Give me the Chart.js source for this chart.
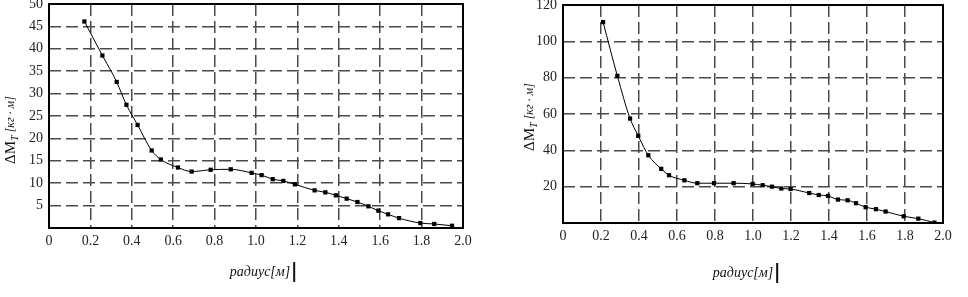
<!DOCTYPE html>
<html>
<head>
<meta charset="utf-8">
<script src="https://cdn.jsdelivr.net/npm/chart.js@4.4.1/dist/chart.umd.min.js"></script>
<style>
    html, body { margin: 0; padding: 0; background: #fff; }
    .wrap { position: absolute; top: 0; width: 484px; height: 297px; }
    #left { left: 0; }
    #right { left: 484px; }
</style>
</head>
<body>
<div class="wrap" id="left"><canvas id="chartLeft" width="484" height="297"></canvas></div>
<div class="wrap" id="right"><canvas id="chartRight" width="484" height="297"></canvas></div>
<script>
// left chart: radius [m] -> dM_T
const radiusLeft = [0.171, 0.258, 0.327, 0.374, 0.428, 0.496, 0.540, 0.623, 0.689, 0.781, 0.878, 0.979,
    1.027, 1.081, 1.132, 1.188, 1.283, 1.335, 1.386, 1.438, 1.490, 1.543, 1.591, 1.638, 1.691, 1.794, 1.861, 1.947];
const momentLeft = [46.1, 38.5, 32.6, 27.5, 23.0, 17.3, 15.3, 13.5, 12.6, 13.0, 13.1, 12.3,
    11.8, 10.9, 10.5, 9.75, 8.4, 7.96, 7.3, 6.55, 5.8, 4.84, 3.87, 3.05, 2.2, 1.1, 0.9, 0.5];

// right chart
const radiusRight = [0.211, 0.286, 0.353, 0.396, 0.449, 0.517, 0.558, 0.639, 0.707, 0.795, 0.898, 0.998,
    1.051, 1.100, 1.149, 1.198, 1.296, 1.346, 1.395, 1.447, 1.498, 1.542, 1.593, 1.647, 1.698, 1.793, 1.870, 1.955];
const momentRight = [110.6, 81.0, 57.5, 48.0, 37.3, 29.8, 26.3, 23.5, 21.9, 21.9, 21.9, 21.5,
    20.8, 20.0, 19.0, 18.7, 16.5, 15.4, 14.9, 12.9, 12.5, 10.9, 8.7, 7.6, 6.3, 3.7, 2.4, 0.2];

const xTicks = [0, 0.2, 0.4, 0.6, 0.8, 1.0, 1.2, 1.4, 1.6, 1.8, 2.0];
const yTicksLeft = [0, 5, 10, 15, 20, 25, 30, 35, 40, 45, 50];
const yTicksRight = [0, 20, 40, 60, 80, 100, 120];

const xTitle = 'радиус[м]';
const yTitleMain = 'ΔM';
const yTitleSub = 'T';
const yTitleUnit = ' [кг · м]';

const SERIF = '"Liberation Serif", "DejaVu Serif", serif';

// frame + axis titles drawn by hand (subscript needs it)
const decorPlugin = {
    id: 'decor',
    afterDraw(chart, args, opts) {
        const ctx = chart.ctx;
        const a = chart.chartArea;
        ctx.save();
        ctx.setLineDash([]);
        ctx.strokeStyle = '#000';
        ctx.lineWidth = 2;
        ctx.strokeRect(a.left, a.top, a.right - a.left, a.bottom - a.top);

        // x title
        ctx.fillStyle = '#111';
        ctx.font = 'italic 14px ' + SERIF;
        ctx.textBaseline = 'middle';
        const w = ctx.measureText(xTitle).width;
        const cx = (a.left + a.right) / 2 + opts.xTitleShift;
        const ty = a.bottom + opts.xTitleGap;
        ctx.textAlign = 'left';
        ctx.fillText(xTitle, cx - w / 2, ty);
        ctx.fillRect(cx + w / 2 + 3, ty - 10, 2, 20);

        // y title, rotated
        ctx.translate(opts.yTitleX, opts.yTitleY);
        ctx.rotate(-Math.PI / 2);
        ctx.font = '15px ' + SERIF;
        const w1 = ctx.measureText(yTitleMain).width;
        ctx.font = 'italic 10px ' + SERIF;
        const w2 = ctx.measureText(yTitleSub).width;
        ctx.font = 'italic 12px ' + SERIF;
        const w3 = ctx.measureText(yTitleUnit).width;
        let x0 = -(w1 + w2 + w3) / 2;
        ctx.font = '15px ' + SERIF;
        ctx.fillText(yTitleMain, x0, 0);
        x0 += w1;
        ctx.font = 'italic 10px ' + SERIF;
        ctx.fillText(yTitleSub, x0, 4);
        x0 += w2;
        ctx.font = 'italic 12px ' + SERIF;
        ctx.fillText(yTitleUnit, x0, 0);
        ctx.restore();
    }
};

function makeChart(canvasId, xs, ys, yTicks, yMax, geo) {
    const pts = xs.map((x, i) => ({ x: x, y: ys[i] }));
    const edgeColor = (ctx) => {
        const v = ctx.tick ? ctx.tick.value : null;
        return (v === ctx.scale.min || v === ctx.scale.max) ? 'rgba(0,0,0,0)' : '#4a4a4a';
    };
    return new Chart(document.getElementById(canvasId).getContext('2d'), {
        type: 'scatter',
        data: {
            datasets: [{
                data: pts,
                showLine: true,
                borderColor: '#000',
                borderWidth: 1,
                backgroundColor: '#000',
                pointStyle: 'rect',
                pointRadius: 3,
                pointBorderWidth: 0,
                cubicInterpolationMode: 'monotone'
            }]
        },
        options: {
            responsive: false,
            animation: false,
            layout: { padding: { top: geo.top, right: geo.right, left: 0, bottom: 0 } },
            plugins: {
                legend: { display: false },
                tooltip: { enabled: false },
                decor: geo.decor
            },
            scales: {
                x: {
                    type: 'linear',
                    min: 0, max: 2,
                    afterBuildTicks: (s) => { s.ticks = xTicks.map(v => ({ value: v })); },
                    afterFit: (s) => { s.height = geo.xHeight; s.paddingLeft = 0; s.paddingRight = 0; },
                    grid: { color: edgeColor, lineWidth: 1.5, drawTicks: false },
                    border: { display: false, dash: [12, 5] },
                    ticks: {
                        padding: 5,
                        color: '#222',
                        font: { family: SERIF, size: 14 },
                        maxRotation: 0,
                        callback: (v) => v === 0 ? '0' : Number(v).toFixed(1)
                    }
                },
                y: {
                    type: 'linear',
                    min: 0, max: yMax,
                    afterBuildTicks: (s) => { s.ticks = yTicks.map(v => ({ value: v })); },
                    afterFit: (s) => { s.width = geo.yWidth; s.paddingTop = 0; s.paddingBottom = 0; },
                    grid: { color: edgeColor, lineWidth: 1.5, drawTicks: false },
                    border: { display: false, dash: [12, 5] },
                    ticks: {
                        padding: 6,
                        color: '#222',
                        font: { family: SERIF, size: 14 },
                        callback: (v) => v === 0 ? '' : String(v)
                    }
                }
            }
        },
        plugins: [decorPlugin]
    });
}

makeChart('chartLeft', radiusLeft, momentLeft, yTicksLeft, 50, {
    top: 4, right: 21, xHeight: 69, yWidth: 49,
    decor: { xTitleShift: 4, xTitleGap: 44, yTitleX: 11, yTitleY: 130 }
});
makeChart('chartRight', radiusRight, momentRight, yTicksRight, 120, {
    top: 5, right: 25, xHeight: 74, yWidth: 79,
    decor: { xTitleShift: -10, xTitleGap: 50, yTitleX: 46, yTitleY: 117 }
});
</script>
</body>
</html>
